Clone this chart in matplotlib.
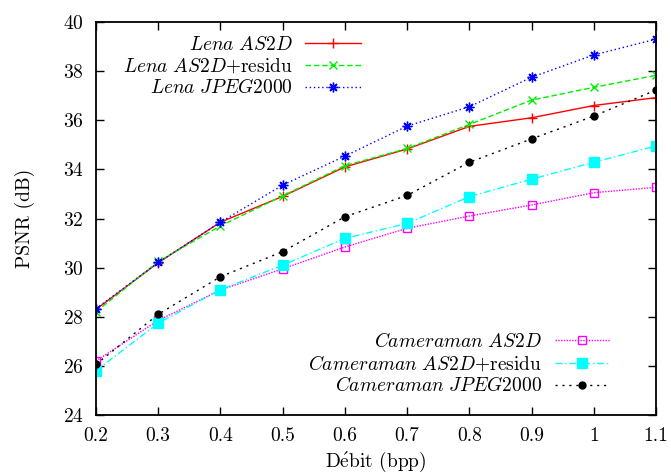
import numpy as np
import matplotlib
matplotlib.use("Agg")
import matplotlib.pyplot as plt

plt.rcParams['font.family'] = ['cmr10', 'DejaVu Serif']
plt.rcParams['mathtext.fontset'] = 'cm'
plt.rcParams['axes.unicode_minus'] = False
plt.rcParams['axes.formatter.use_mathtext'] = True

debit = [0.2, 0.3, 0.4, 0.5, 0.6, 0.7, 0.8, 0.9, 1.0, 1.1]

lena_as2d = [28.3, 30.2, 31.85, 32.9, 34.1, 34.83, 35.75, 36.1, 36.6, 36.92]
lena_as2d_res = [28.2, 30.25, 31.7, 32.92, 34.15, 34.85, 35.83, 36.82, 37.34, 37.83]
lena_jpeg = [28.33, 30.21, 31.85, 33.36, 34.54, 35.76, 36.55, 37.75, 38.66, 39.3]

cam_as2d = [26.2, 27.85, 29.09, 29.95, 30.84, 31.6, 32.1, 32.55, 33.05, 33.27]
cam_as2d_res = [25.8, 27.74, 29.1, 30.1, 31.19, 31.8, 32.89, 33.6, 34.29, 34.95]
cam_jpeg = [26.06, 28.1, 29.63, 30.65, 32.07, 32.94, 34.29, 35.24, 36.17, 37.23]

xticks = [0.2, 0.3, 0.4, 0.5, 0.6, 0.7, 0.8, 0.9, 1.0, 1.1]
xlabels = ['0.2', '0.3', '0.4', '0.5', '0.6', '0.7', '0.8', '0.9', '1', '1.1']
yticks = [24, 26, 28, 30, 32, 34, 36, 38, 40]

fig = plt.figure(figsize=(6.71, 4.76), dpi=100)
ax = fig.add_axes([96/671, 1-415/476, (656-96)/671, (415-22)/476])

l1, = ax.plot(debit, lena_as2d, color='#ff0000', lw=1, ls='-', marker='+', ms=7, mew=1,
              label=r'$\mathit{Lena\ AS2D}$')
l2, = ax.plot(debit, lena_as2d_res, color='#00ee00', lw=1, ls=(0, (4, 2)), marker='x', ms=6, mew=1,
              label=r'$\mathit{Lena\ AS2D}$+residu')
l3, = ax.plot(debit, lena_jpeg, color='#0000ff', lw=1, ls=(0, (1, 2)), marker=(8, 2, 0), ms=7, mew=1,
              label=r'$\mathit{Lena\ JPEG2000}$')

l4, = ax.plot(debit, cam_as2d, color='#ff00ff', lw=1, ls=(0, (1, 1)), marker='s', ms=6, mew=1,
              mfc='none', label=r'$\mathit{Cameraman\ AS2D}$')
l5, = ax.plot(debit, cam_as2d_res, color='#00ffff', lw=1, ls=(0, (5, 2, 1, 2)), marker='s', ms=7,
              label=r'$\mathit{Cameraman\ AS2D}$+residu')
l6, = ax.plot(debit, cam_jpeg, color='black', lw=1, ls=(0, (1.5, 3.5)), marker='o', ms=5,
              label=r'$\mathit{Cameraman\ JPEG2000}$')

ax.set_xlim(0.2, 1.1)
ax.set_ylim(24, 40)
ax.set_xticks(xticks)
ax.set_xticklabels(xlabels)
ax.set_yticks(yticks)
ax.tick_params(direction='in', length=6, width=1, top=True, right=True, labelsize=14, pad=9)
for s in ax.spines.values():
    s.set_linewidth(1.3)

ax.set_xlabel(r'D$\acute{\mathrm{e}}$bit (bpp)', fontsize=14, labelpad=3)
ax.set_ylabel('PSNR (dB)', fontsize=14, labelpad=20)

leg1 = ax.legend(handles=[l1, l2, l3], loc='upper right', bbox_to_anchor=(0.473, 0.965),
                 markerfirst=False, frameon=False, fontsize=14, handlelength=2.85,
                 handletextpad=0.65, labelspacing=0.15, borderpad=0, borderaxespad=0)
ax.add_artist(leg1)
ax.legend(handles=[l4, l5, l6], loc='lower right', bbox_to_anchor=(0.918, 0.05),
          markerfirst=False, frameon=False, fontsize=14, handlelength=2.85,
          handletextpad=0.65, labelspacing=0.15, borderpad=0, borderaxespad=0)

fig.savefig('out.png', dpi=100)
